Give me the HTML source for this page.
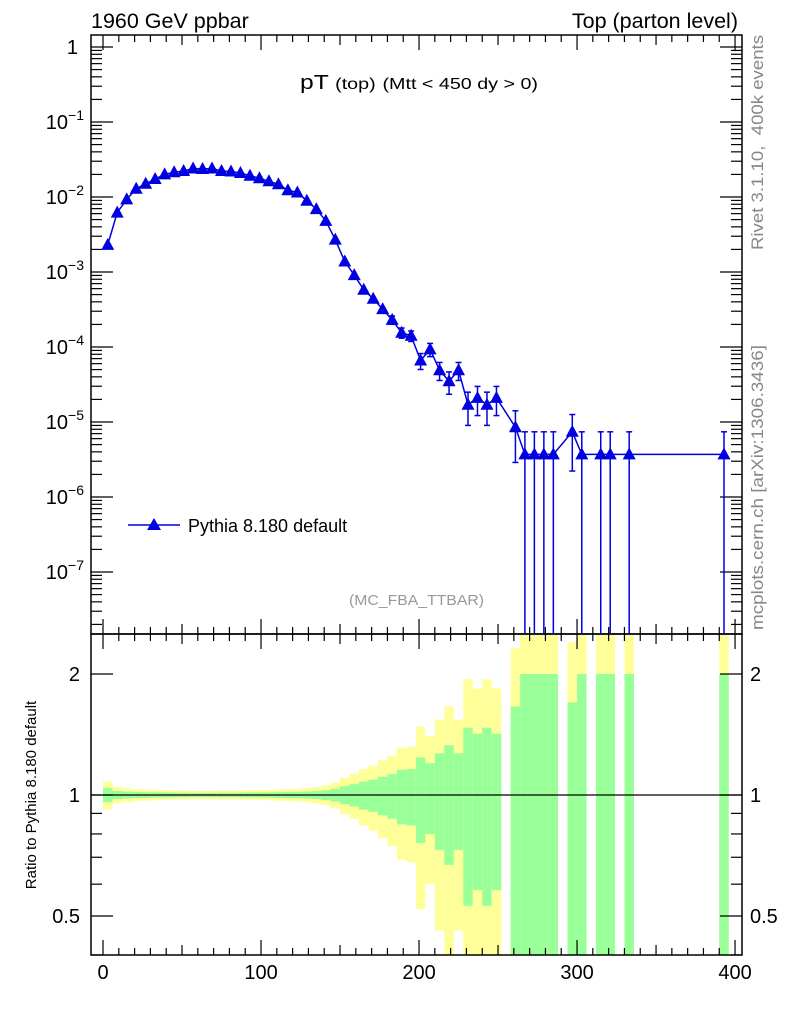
<!DOCTYPE html>
<html><head><meta charset="utf-8">
<style>
html,body{margin:0;padding:0;background:#fff;}
svg{display:block;font-family:"Liberation Sans",Arial,sans-serif;}
</style></head>
<body>
<svg id="chart" width="786" height="1024" viewBox="0 0 786 1024" xmlns="http://www.w3.org/2000/svg">
<g id="bands"></g>
<g id="axes"></g>
<g id="series"></g>
<text x="91" y="28" font-size="21.5">1960 GeV ppbar</text>
<text x="738" y="28" font-size="21.5" text-anchor="end">Top (parton level)</text>
<text x="300" y="89" font-size="20" textLength="238" lengthAdjust="spacingAndGlyphs">pT <tspan font-size="16">(top)</tspan> <tspan font-size="16">(Mtt &lt; 450 dy &gt; 0)</tspan></text>
<text x="349" y="605" font-size="15" fill="#999" textLength="135" lengthAdjust="spacingAndGlyphs">(MC_FBA_TTBAR)</text>
<text transform="translate(763,250) rotate(-90)" font-size="17" fill="#888" textLength="215" lengthAdjust="spacingAndGlyphs" xml:space="preserve">Rivet 3.1.10,  400k events</text>
<text transform="translate(763,630) rotate(-90)" font-size="17" fill="#888" textLength="285" lengthAdjust="spacingAndGlyphs">mcplots.cern.ch [arXiv:1306.3436]</text>
<text transform="translate(36,795) rotate(-90)" font-size="15" text-anchor="middle">Ratio to Pythia 8.180 default</text>
<g>
<line x1="128" y1="525" x2="180" y2="525" stroke="#0000e0" stroke-width="1.5"/>
<polygon points="154,518 147,530 161,530" fill="#0000e0"/>
<text x="188" y="532" font-size="18">Pythia 8.180 default</text>
</g>
</svg>
<script>
const binCenters=[3,9,15,21,27,33,39,45,51,57,63,69,75,81,87,93,99,105,111,117,123,129,135,141,147,153,159,165,171,177,183,189,195,201,207,213,219,225,231,237,243,249,255,261,267,273,279,285,291,297,303,309,315,321,327,333,339,345,351,357,363,369,375,381,387,393];
const values=[2.3e-3,6.2e-3,9.3e-3,1.29e-2,1.5e-2,1.74e-2,2.0e-2,2.14e-2,2.22e-2,2.4e-2,2.36e-2,2.4e-2,2.22e-2,2.19e-2,2.09e-2,1.92e-2,1.78e-2,1.62e-2,1.48e-2,1.23e-2,1.15e-2,8.9e-3,6.9e-3,4.8e-3,2.7e-3,1.38e-3,9.1e-4,5.8e-4,4.4e-4,3.2e-4,2.3e-4,1.55e-4,1.41e-4,6.6e-5,9.3e-5,4.9e-5,3.5e-5,4.9e-5,1.7e-5,2.1e-5,1.7e-5,2.1e-5,null,8.5e-6,3.7e-6,3.7e-6,3.7e-6,3.7e-6,null,7.4e-6,3.7e-6,null,3.7e-6,3.7e-6,null,3.7e-6,null,null,null,null,null,null,null,null,null,3.7e-6];
const relErr=[.04,.024,.02,.017,.016,.015,.014,.013,.013,.012,.012,.012,.013,.013,.013,.014,.014,.015,.016,.017,.018,.02,.023,.028,.037,.052,.064,.08,.092,.11,.127,.155,.16,.24,.2,.27,.33,.27,.47,.42,.47,.42,null,.66,1,1,1,1,null,.7,1,null,1,1,null,1,null,null,null,null,null,null,null,null,null,1];
const binWidth=6;
const xTicks=[0,100,200,300,400];
const yMainTicks=[0,-1,-2,-3,-4,-5,-6,-7];
const yRatioTicks=[2,1,0.5];

const NS="http://www.w3.org/2000/svg";
const X0=91,X1=742,MT=35,MB=634,RB=955;
const xmin=-7.6,xmax=404.4;
const X=v=>X0+(v-xmin)/(xmax-xmin)*(X1-X0);
const Y=v=>47-75*Math.log10(v);
const YR=r=>795-121*Math.log2(r);
const rTop=2.51,rBot=0.40;
function el(tag,attrs,parent){const e=document.createElementNS(NS,tag);for(const k in attrs)e.setAttribute(k,attrs[k]);parent.appendChild(e);return e;}
const axes=document.getElementById('axes'),series=document.getElementById('series'),bands=document.getElementById('bands');

// ratio bands
binCenters.forEach((c,i)=>{
  const e=relErr[i]; if(e==null) return;
  const xa=X(c-binWidth/2),xb=X(c+binWidth/2);
  const clampY=r=>r<=rBot?RB:(r>=rTop?MB:YR(r));
  const yl=el('rect',{x:xa,y:clampY(1+2*e),width:xb-xa,height:clampY(1-2*e)-clampY(1+2*e),fill:'#ffff99'},bands);
  
  
  const gr=el('rect',{x:xa,y:clampY(1+e),width:xb-xa,height:clampY(1-e)-clampY(1+e),fill:'#99ff99'},bands);
  
  
});
el('line',{x1:X0,y1:YR(1),x2:X1,y2:YR(1),stroke:'#000','stroke-width':1.2},axes);

// frames
el('rect',{x:X0,y:MT,width:X1-X0,height:MB-MT,fill:'none',stroke:'#000','stroke-width':1.5},axes);
el('rect',{x:X0,y:MB,width:X1-X0,height:RB-MB,fill:'none',stroke:'#000','stroke-width':1.5},axes);

// x ticks
for(let v=0;v<=400;v+=10){
  const len=v%100==0?15:(v%50==0?10:7);
  const x=X(v);
  [[MT,1],[MB,-1],[MB,1],[RB,-1]].forEach(([y0,d])=>el('line',{x1:x,y1:y0,x2:x,y2:y0+d*len,stroke:'#000','stroke-width':1.2},axes));
}
xTicks.forEach(v=>{
  const t=el('text',{x:X(v),y:979,'font-size':20,'text-anchor':'middle'},axes);
  t.textContent=v;
  
  
});
// main y ticks
for(let d=-8;d<=0;d++){
  for(let m=1;m<=9;m++){
    const v=m*Math.pow(10,d),y=Y(v);
    if(y<MT||y>MB) continue;
    const len=m==1?22:11;
    el('line',{x1:X0,y1:y,x2:X0+len,y2:y,stroke:'#000','stroke-width':1.2},axes);
    el('line',{x1:X1,y1:y,x2:X1-len,y2:y,stroke:'#000','stroke-width':1.2},axes);
  }
}
yMainTicks.forEach(d=>{
  const y=Y(Math.pow(10,d));
  const t=el('text',{x:d==0?78:84,y:y+7,'font-size':20,'text-anchor':'end'},axes);
  
  
  if(d==0){t.textContent='1';}
  else{t.textContent='10';const s=el('tspan',{dy:-9,'font-size':14},t);s.textContent='\u2212'+(-d);}
});
// ratio ticks
[0.4,0.5,0.6,0.7,0.8,0.9,1,2].forEach(r=>{
  const y=YR(r),len=(r==0.5||r==1||r==2)?22:11;
  el('line',{x1:X0,y1:y,x2:X0+len,y2:y,stroke:'#000','stroke-width':1.2},axes);
  el('line',{x1:X1,y1:y,x2:X1-len,y2:y,stroke:'#000','stroke-width':1.2},axes);
});
yRatioTicks.forEach(r=>{
  const y=YR(r);
  const a=el('text',{x:80,y:y+7,'font-size':20,'text-anchor':'end'},axes);a.textContent=r;
  
  
  const b=el('text',{x:750,y:y+7,'font-size':20},axes);b.textContent=r;
  
  
});

// series
const pts=[];
binCenters.forEach((c,i)=>{if(values[i]!=null)pts.push([X(c),Y(values[i]),i]);});
const pl=el('polyline',{points:pts.map(p=>p[0]+','+p[1]).join(' '),fill:'none',stroke:'#0000e0','stroke-width':1.5},series);


pts.forEach(([x,y,i])=>{
  const v=values[i],e=relErr[i];
  const yt=Y(v*(1+e)),yb=(1-e)<=0?MB:Math.min(MB,Y(v*(1-e)));
  if(yb-yt>8){
    el('line',{x1:x,y1:yt,x2:x,y2:yb,stroke:'#0000e0','stroke-width':1.5},series);
    el('line',{x1:x-3,y1:yt,x2:x+3,y2:yt,stroke:'#0000e0','stroke-width':1.5},series);
    if(yb<MB) el('line',{x1:x-3,y1:yb,x2:x+3,y2:yb,stroke:'#0000e0','stroke-width':1.5},series);
  }
  const m=el('polygon',{points:`${x},${y-7} ${x-6.5},${y+5} ${x+6.5},${y+5}`,fill:'#0000e0'},series);
  
  
});
</script>
</body></html>
